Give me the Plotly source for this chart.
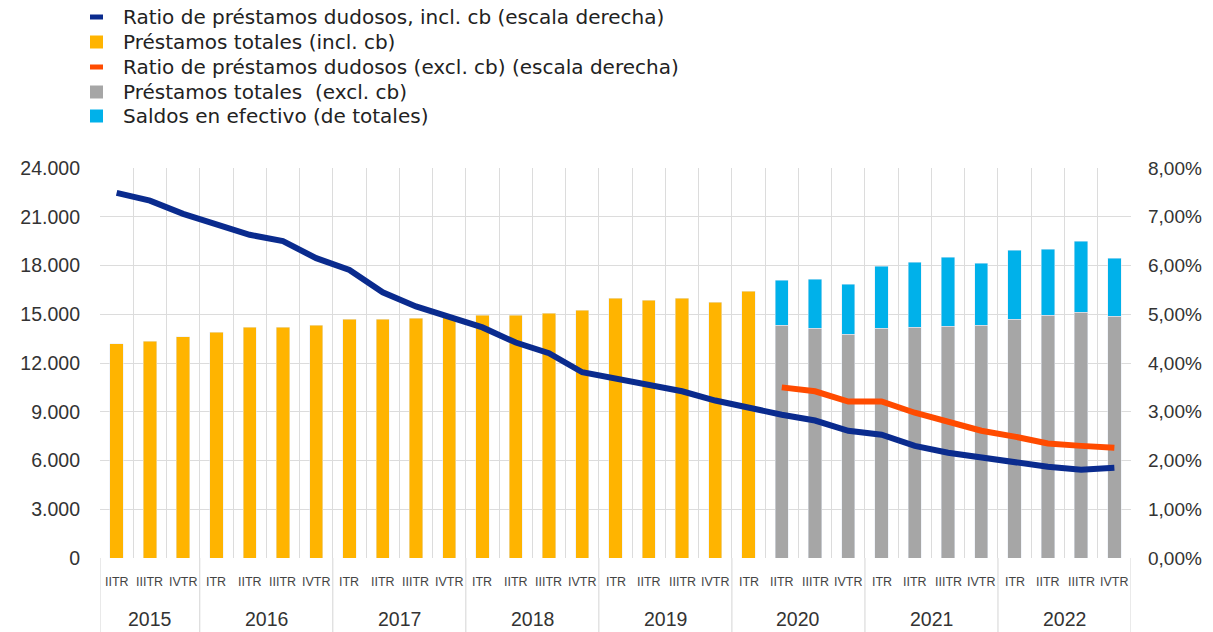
import plotly.graph_objects as go

years = ["2015", "2016", "2017", "2018", "2019", "2020", "2021", "2022"]
quarters = ["IITR", "IIITR", "IVTR"] + ["ITR", "IITR", "IIITR", "IVTR"] * 7

# Total loans incl. cb (yellow), 2015 II - 2020 I
loans_incl = [13200, 13330, 13630, 13880, 14190, 14190, 14310, 14680, 14680, 14740, 14780,
              14930, 14930, 15050, 15240, 15980, 15850, 15980, 15730, 16410]
# Total loans excl. cb (gray), 2020 II - 2022 IV
loans_excl = [14320, 14130, 13760, 14130, 14190, 14250, 14310, 14680, 14930, 15110, 14870]
# Total including cash balances (top of cyan), 2020 II - 2022 IV
loans_total = [17090, 17150, 16840, 17950, 18200, 18510, 18140, 18940, 19000, 19500, 18450]
cash = [t - e for t, e in zip(loans_total, loans_excl)]

# Non-performing loan ratios, in percent
npl_incl = [7.49, 7.33, 7.06, 6.85, 6.63, 6.50, 6.15, 5.91, 5.45, 5.16, 4.96,
            4.73, 4.42, 4.20, 3.81, 3.68, 3.56, 3.42, 3.23, 3.07, 2.94, 2.82,
            2.61, 2.53, 2.30, 2.16, 2.06, 1.95, 1.87, 1.81, 1.85]
npl_excl = [3.50, 3.42, 3.21, 3.21, 2.98, 2.80, 2.61, 2.49, 2.35, 2.30, 2.26]

legend_names = ["Ratio de préstamos dudosos, incl. cb (escala derecha)",
                "Préstamos totales (incl. cb)",
                "Ratio de préstamos dudosos (excl. cb) (escala derecha)",
                "Préstamos totales  (excl. cb)",
                "Saldos en efectivo (de totales)"]

n = len(quarters)
x_all = list(range(n))
x_incl = x_all[:len(loans_incl)]
x_excl = x_all[len(loans_incl):]
year_sizes = [3] + [4] * 7

BLUE = "#0A2B8E"
YELLOW = "#FFB400"
ORANGE = "#FF4B00"
GRAY = "#A6A6A6"
CYAN = "#00B1EA"

W, H = 1213, 632
ML, MR, MT, MB = 100, 82, 168, 74
PW, PH = W - ML - MR, H - MT - MB

fig = go.Figure()
fig.add_trace(go.Bar(x=x_incl, y=loans_incl, marker_color=YELLOW, width=0.4,
                     name=legend_names[1]))
fig.add_trace(go.Bar(x=x_excl, y=loans_excl, marker_color=GRAY, width=0.4,
                     name=legend_names[3]))
fig.add_trace(go.Bar(x=x_excl, y=cash, marker_color=CYAN, width=0.4,
                     name=legend_names[4]))
fig.add_trace(go.Scatter(x=x_all, y=[v / 100 for v in npl_incl], yaxis="y2", mode="lines",
                         line=dict(color=BLUE, width=6), name=legend_names[0]))
fig.add_trace(go.Scatter(x=x_excl, y=[v / 100 for v in npl_excl], yaxis="y2", mode="lines",
                         line=dict(color=ORANGE, width=6), name=legend_names[2]))

annotations = []
shapes = []

# manual legend
leg_colors = [BLUE, YELLOW, ORANGE, GRAY, CYAN]
leg_kind = ["line", "box", "line", "box", "box"]
row_y = [17, 42, 67, 92, 116]
for name, col, kind, py in zip(legend_names, leg_colors, leg_kind, row_y):
    px0, px1 = 90, 103
    if kind == "line":
        y0, y1 = py - 2.5, py + 2.5
    else:
        y0, y1 = py - 6.5, py + 6.5
    shapes.append(dict(type="rect", xref="paper", yref="paper",
                       x0=(px0 - ML) / PW, x1=(px1 - ML) / PW,
                       y0=(H - MB - y1) / PH, y1=(H - MB - y0) / PH,
                       fillcolor=col, line=dict(width=0)))
    annotations.append(dict(x=(121 - ML) / PW, y=(H - MB - py) / PH, xref="paper", yref="paper",
                            xanchor="left", yanchor="middle", text=name, showarrow=False,
                            font=dict(size=20, color="#222222", family="DejaVu Sans")))

for i, q in enumerate(quarters):
    annotations.append(dict(x=i, y=(H - MB - 582) / PH, xref="x", yref="paper", text=q,
                            showarrow=False, yanchor="middle",
                            font=dict(size=12.5, color="#444444", family="Liberation Sans")))
start = 0
bounds = [-0.5]
for y, s in zip(years, year_sizes):
    center = start + (s - 1) / 2
    annotations.append(dict(x=center, y=(H - MB - 619) / PH, xref="x", yref="paper", text=y,
                            showarrow=False, yanchor="middle",
                            font=dict(size=19.5, color="#333333", family="Liberation Sans")))
    start += s
    bounds.append(start - 0.5)
for b in bounds:
    shapes.append(dict(type="line", xref="x", yref="paper", x0=b, x1=b, y0=0, y1=-MB / PH,
                       line=dict(color="#d4d4d4", width=1)))

fig.update_layout(
    width=W, height=H,
    margin=dict(l=ML, r=MR, t=MT, b=MB, autoexpand=False),
    paper_bgcolor="white", plot_bgcolor="white",
    barmode="stack",
    separators=",.",
    showlegend=False,
    font=dict(family="Liberation Sans", color="#333333"),
    xaxis=dict(range=[-0.5, n - 0.5], tickvals=[i - 0.5 for i in range(n + 1)],
               showticklabels=False, showgrid=True, gridcolor="#dcdcdc", gridwidth=1,
               zeroline=False, showline=False, automargin=False),
    yaxis=dict(range=[0, 24000], tickvals=list(range(0, 24001, 3000)), tickformat=",d",
               showgrid=True, gridcolor="#dcdcdc", zeroline=False, showline=False,
               tickfont=dict(size=19.5, color="#333333"), ticklabelstandoff=19,
               automargin=False),
    yaxis2=dict(range=[0, 0.08], overlaying="y", side="right",
                tickvals=[k / 100 for k in range(0, 9)],
                tickformat=".2%", showgrid=False, zeroline=False,
                tickfont=dict(size=19, color="#333333"), ticklabelstandoff=16,
                automargin=False),
    annotations=annotations,
    shapes=shapes,
)

fig.write_html("out.html", config={"displayModeBar": False},
               post_script="document.body.style.margin='0';document.body.style.overflow='hidden';")
